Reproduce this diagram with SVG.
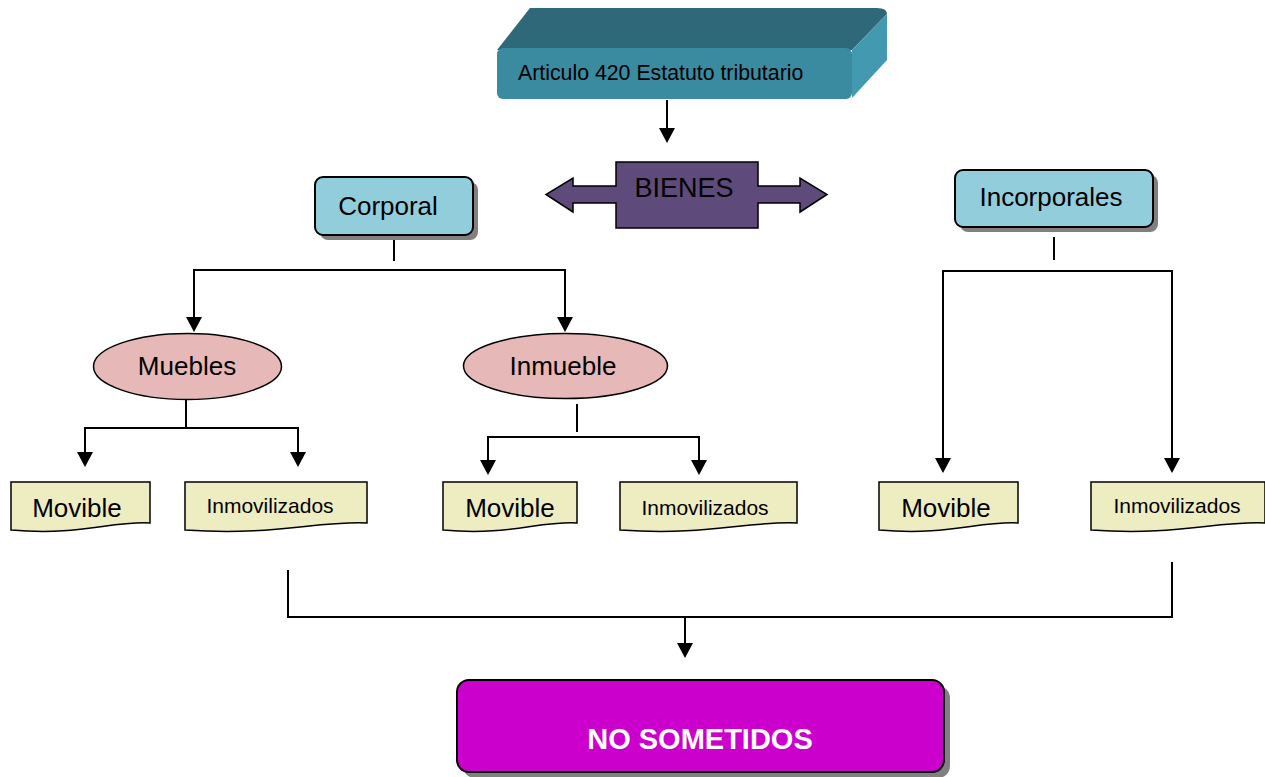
<svg xmlns="http://www.w3.org/2000/svg" width="1265" height="777" viewBox="0 0 1265 777">
<style>
text{font-family:"Liberation Sans",Arial,sans-serif;fill:#000}
.ln{fill:none;stroke:#000;stroke-width:2}
.box{fill:#92cddc;stroke:#000;stroke-width:2}
.sh{fill:#808080}
.ell{fill:#e6b8b7;stroke:#000;stroke-width:1.5}
.doc{fill:#eeecc1;stroke:#000;stroke-width:1.5}
.lbl{font-size:26px;text-anchor:middle}
.sm{font-size:21px;text-anchor:middle}
</style>
<defs>
<path id="ah" d="M-8,-15 L8,-15 L0,0 Z" fill="#000"/>
</defs>
<g id="connectors">
<line class="ln" x1="667" y1="100" x2="667" y2="135"/>
<line class="ln" x1="394" y1="236" x2="394" y2="261"/>
<polyline class="ln" points="194,325 194,270 565,270 565,325"/>
<line class="ln" x1="1054" y1="237" x2="1054" y2="260"/>
<polyline class="ln" points="943,465 943,271 1172,271 1172,465"/>
<line class="ln" x1="186" y1="400" x2="186" y2="428"/>
<polyline class="ln" points="85,460 85,428 298,428 298,460"/>
<line class="ln" x1="577" y1="404" x2="577" y2="432"/>
<polyline class="ln" points="488,468 488,437 699,437 699,468"/>
<polyline class="ln" points="288,570 288,617 1172,617 1172,562"/>
<line class="ln" x1="685" y1="617" x2="685" y2="650"/>
<use href="#ah" x="667" y="143"/>
<use href="#ah" x="194" y="332"/>
<use href="#ah" x="565" y="332"/>
<use href="#ah" x="943" y="473"/>
<use href="#ah" x="1172" y="473"/>
<use href="#ah" x="85" y="467"/>
<use href="#ah" x="298" y="467"/>
<use href="#ah" x="488" y="475"/>
<use href="#ah" x="699" y="475"/>
<use href="#ah" x="685" y="658"/>
</g>
<g id="articulo">
<path d="M530,8 H877 Q887,8 887,14 L852,50 H497 Z" fill="#2f6878"/>
<path d="M852,50 L887,14 V60 L852,98 Z" fill="#4399b0"/>
<rect x="497" y="48" width="355" height="51" rx="6" fill="#3a8aa0"/>
<text x="518" y="80" font-size="21.3px">Articulo 420 Estatuto tributario</text>
</g>
<g id="bienes">
<path d="M616,162 H758 V186 H800 V178 L827,194.5 L800,212 V203 H758 V228 H616 V203 H573 V212 L546,194.5 L573,178 V186 H616 Z" fill="#5f4b7b" stroke="#000" stroke-width="1.5"/>
<text x="684" y="197" font-size="27px" text-anchor="middle">BIENES</text>
</g>
<g id="corporal">
<rect class="sh" x="320" y="182" width="158" height="58" rx="8"/>
<rect class="box" x="315" y="177" width="158" height="58" rx="8"/>
<text class="lbl" x="388" y="215">Corporal</text>
</g>
<g id="incorporales">
<rect class="sh" x="960" y="175" width="198" height="57" rx="8"/>
<rect class="box" x="955" y="170" width="198" height="57" rx="8"/>
<text class="lbl" x="1051" y="206">Incorporales</text>
</g>
<g id="muebles">
<ellipse class="ell" cx="187.5" cy="366.5" rx="94" ry="33"/>
<text class="lbl" x="187" y="375">Muebles</text>
</g>
<g id="inmueble">
<ellipse class="ell" cx="565.5" cy="366" rx="102" ry="32.5"/>
<text class="lbl" x="563" y="375">Inmueble</text>
</g>
<g id="movible1">
<path class="doc" d="M11,482 H150 V523 C110,521 80,536 11,530 Z"/>
<text class="lbl" x="77" y="517">Movible</text>
</g>
<g id="inmovilizados1">
<path class="doc" d="M185,482 H367 V523 C315,521 275,536 185,530 Z"/>
<text class="sm" x="270" y="513">Inmovilizados</text>
</g>
<g id="movible2">
<path class="doc" d="M443,482 H577 V523 C538,521 509,536 443,530 Z"/>
<text class="lbl" x="510" y="517">Movible</text>
</g>
<g id="inmovilizados2">
<path class="doc" d="M620,482 H797 V523 C746,521 707,536 620,530 Z"/>
<text class="sm" x="705" y="515">Inmovilizados</text>
</g>
<g id="movible3">
<path class="doc" d="M879,482 H1018 V523 C978,521 948,536 879,530 Z"/>
<text class="lbl" x="946" y="517">Movible</text>
</g>
<g id="inmovilizados3">
<path class="doc" d="M1091,482 H1265 V523 C1215,521 1177,536 1091,530 Z"/>
<text class="sm" x="1177" y="513">Inmovilizados</text>
</g>
<g id="nosometidos">
<rect class="sh" x="463" y="686" width="487" height="92" rx="12"/>
<rect x="457" y="680" width="487" height="92" rx="12" fill="#cc00cc" stroke="#000" stroke-width="2"/>
<text x="700" y="749" font-size="29px" font-weight="bold" text-anchor="middle" style="fill:#fff">NO SOMETIDOS</text>
</g>
</svg>
